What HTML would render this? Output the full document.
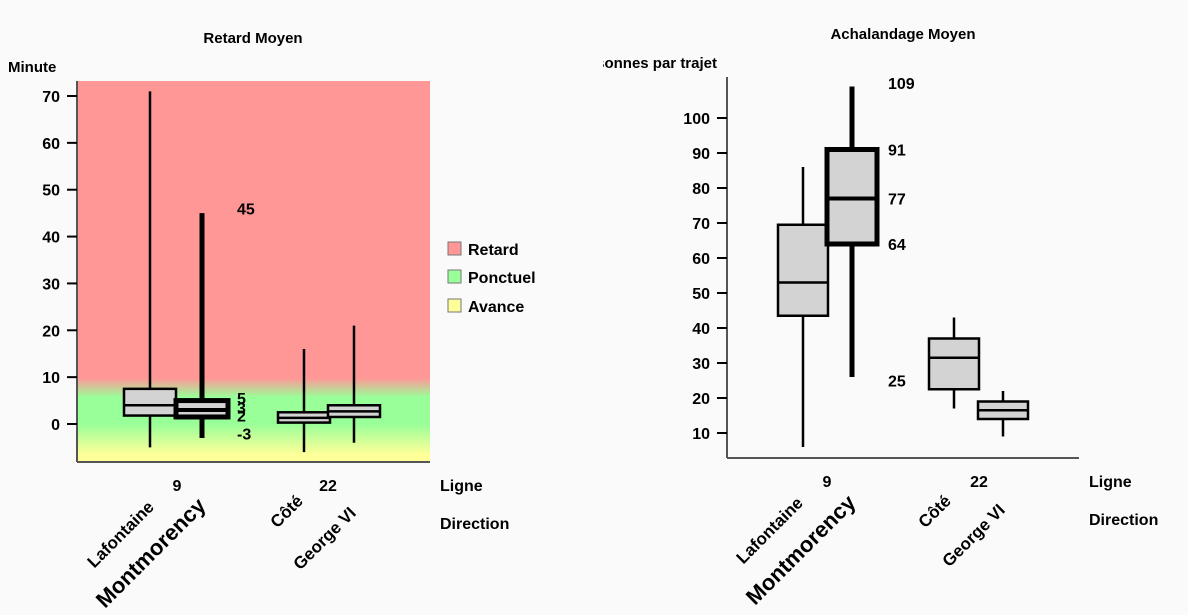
<!DOCTYPE html>
<html><head><meta charset="utf-8"><style>
html,body{margin:0;padding:0;background:#fafafa;}
svg{display:block;font-family:"Liberation Sans","DejaVu Sans",sans-serif;font-weight:bold;}
</style></head><body>
<svg id="c" width="1188" height="615" viewBox="0 0 1188 615">
<defs>
<linearGradient id="bg" x1="0" y1="0" x2="0" y2="1">
<stop offset="0" stop-color="#ff9797"/><stop offset="0.78" stop-color="#ff9797"/>
<stop offset="0.83" stop-color="#99ff99"/><stop offset="0.9" stop-color="#99ff99"/>
<stop offset="0.98" stop-color="#ffff99"/><stop offset="1" stop-color="#ffff99"/>
</linearGradient>
<clipPath id="clipR"><rect x="603" y="40" width="200" height="40"/></clipPath>
</defs>
</svg>
<script>
const cats=['Lafontaine','Montmorency','Côté','George VI'];
const delayMin=[-5,-3,-6,-4];
const delayQ1=[1.8,1.5,0.3,1.5];
const delayMed=[4,3,1.3,2.7];
const delayQ3=[7.5,5,2.5,4];
const delayMax=[71,45,16,21];
const delayTicks=[0,10,20,30,40,50,60,70];
const delayLabels=['5','3','2','-3','45'];
const delayLabelVals=[5.5,3.5,1.8,-2,46];
const ridMin=[6,26,17,9];
const ridQ1=[43.5,64,22.5,14];
const ridMed=[53,77,31.5,16.5];
const ridQ3=[69.5,91,37,19];
const ridMax=[86,109,43,22];
const ridTicks=[10,20,30,40,50,60,70,80,90,100];
const ridLabels=['109','91','77','64','25'];
const ridLabelVals=[110,91,77,64,25];

const svg=document.getElementById('c');
const NS='http://www.w3.org/2000/svg';
function el(t,a,txt){const e=document.createElementNS(NS,t);for(const k in a)e.setAttribute(k,a[k]);if(txt!==undefined)e.textContent=txt;svg.appendChild(e);return e;}

function chart(o){
  const y=v=>o.y0+(v-o.v0)*o.k;
  if(o.bg){const r=el('rect',{x:o.ax,y:o.top,width:o.right-o.ax,height:o.bot-o.top,fill:'url(#bg)'});
    }
  let a=el('line',{x1:o.ax,y1:o.top,x2:o.ax,y2:o.bot,stroke:'#555','stroke-width':2});
  
  a=el('line',{x1:o.ax,y1:o.bot,x2:o.right,y2:o.bot,stroke:'#555','stroke-width':2});
  
  o.ticks.forEach(t=>{
    const tk=el('line',{x1:o.ax-10,x2:o.ax,y1:y(t),y2:y(t),stroke:'#000','stroke-width':2});
    
    const tl=el('text',{x:o.ax-17,y:y(t)+6,'text-anchor':'end','font-size':16},String(t));
    
  });
  for(let i=0;i<4;i++){
    const thick=i===1, bx=o.bx[i], w=o.bw, wx=bx+w/2+(o.wOff||0);
    const sw=thick?5:2.5;
    const wl=el('line',{x1:wx,x2:wx,y1:y(o.max[i]),y2:y(o.min[i]),stroke:'#000','stroke-width':thick?5:2.5});
    
    const b=el('rect',{x:bx,y:y(o.q3[i]),width:w,height:y(o.q1[i])-y(o.q3[i]),fill:'#d3d3d3',stroke:'#000','stroke-width':sw});
    
    const m=el('line',{x1:bx,x2:bx+w,y1:y(o.med[i]),y2:y(o.med[i]),stroke:'#000','stroke-width':thick?4:2.5});
    
  }
  o.lbl.forEach((s,i)=>{const t=el('text',{x:o.lx,y:y(o.lv[i])+6,'font-size':16},s);
    });
  o.gx.forEach((gx,i)=>{const t=el('text',{x:gx,y:o.bot+29,'text-anchor':'middle','font-size':16},['9','22'][i]);
    });
  let t=el('text',{x:o.right+10,y:o.bot+29,'font-size':16},'Ligne');
  
  t=el('text',{x:o.right+10,y:o.bot+67,'font-size':16},'Direction');
  
  o.dl.forEach((p,i)=>{const tt=el('text',{x:p[0],y:p[1],'text-anchor':'end','font-size':i===1?22:17,transform:`rotate(-45 ${p[0]} ${p[1]})`},cats[i]);
    });
}

chart({ax:77,top:81,bot:462,right:430,y0:424,v0:0,k:-328/70,bg:true,ticks:delayTicks,
  bx:[124,176,278,328],bw:52,min:delayMin,q1:delayQ1,med:delayMed,q3:delayQ3,max:delayMax,
  lbl:delayLabels,lv:delayLabelVals,lx:237,gx:[177,328],
  dl:[[155,508],[207,507],[304,502],[357,514]]});
chart({ax:727,top:77,bot:458,right:1079,y0:433,v0:10,k:-3.5,bg:false,ticks:ridTicks,
  bx:[778,827,929,978],bw:50,min:ridMin,q1:ridQ1,med:ridMed,q3:ridQ3,max:ridMax,
  lbl:ridLabels,lv:ridLabelVals,lx:888,gx:[827,979],
  dl:[[804,504],[857,504],[952,502],[1006,511]]});

let t;
t=el('text',{x:253,y:43,'text-anchor':'middle','font-size':15},'Retard Moyen');

t=el('text',{x:903,y:39,'text-anchor':'middle','font-size':15},'Achalandage Moyen');

t=el('text',{x:8,y:72,'font-size':15},'Minute');

t=el('text',{x:717,y:68,'text-anchor':'end','font-size':15,'clip-path':'url(#clipR)'},'Personnes par trajet');

const legNames=['Retard','Ponctuel','Avance'],legCols=['#ff9797','#99ff99','#ffff99'],legY=[249,277,306];
legNames.forEach((n,i)=>{
  const r=el('rect',{x:448,y:legY[i]-7,width:13,height:13,fill:legCols[i],stroke:'#777','stroke-width':1});
  
  const tx=el('text',{x:468,y:legY[i]+6,'font-size':16},n);
  
});
</script>
</body></html>
